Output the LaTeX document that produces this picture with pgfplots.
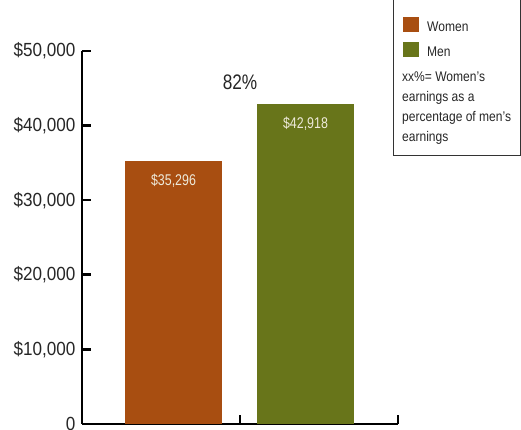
\documentclass[border=0pt]{standalone}
\usepackage{pgfplots}
\pgfplotsset{compat=1.18}
\usepackage{fontspec}
\setmainfont{Liberation Sans}[FakeStretch=0.86]
\newfontfamily\tickfont{Liberation Sans}[FakeStretch=0.9]
\newfontfamily\barfont{Liberation Sans}[FakeStretch=0.8]
\newfontfamily\pctfont{Liberation Sans}[FakeStretch=0.82]
\definecolor{women}{RGB}{168,78,17}
\definecolor{men}{RGB}{104,117,26}
\definecolor{lbl}{RGB}{238,234,218}
\begin{document}
\begin{tikzpicture}[x=1pt,y=1pt]
\useasboundingbox (0,0) rectangle (521,430);
\begin{axis}[
  at={(82pt,6pt)}, anchor=south west, scale only axis,
  width=316pt, height=373pt,
  xmin=0, xmax=316, ymin=0, ymax=50000,
  axis x line*=bottom, axis y line*=left,
  axis line style={-, line width=2.6pt, black},
  xtick={158,316}, xticklabels={},
  ytick={0,10000,20000,30000,40000,50000},
  scaled y ticks=false,
  yticklabels={0,{\$10,000},{\$20,000},{\$30,000},{\$40,000},{\$50,000}},
  tick align=inside, major tick length=9pt,
  tick style={line width=2.6pt, black},
  yticklabel style={font=\tickfont\fontsize{19}{19}\selectfont, text=black!85, xshift=-3pt},
  /pgf/number format/assume math mode=true,
  clip=false,
]
\addplot[ybar, bar shift=0pt, bar width=97, fill=women, draw=none,
  point meta=y,
  nodes near coords={\$\pgfmathprintnumber[1000 sep={,}]{\pgfplotspointmeta}},
  every node near coord/.append style={anchor=north, yshift=-10pt, text=lbl, font=\barfont\fontsize{15.5}{15.5}\selectfont}]
  coordinates {(91.5,35296)};
\addplot[ybar, bar shift=0pt, bar width=97, fill=men, draw=none,
  point meta=y,
  nodes near coords={\$\pgfmathprintnumber[1000 sep={,}]{\pgfplotspointmeta}},
  every node near coord/.append style={anchor=north, yshift=-10pt, text=lbl, font=\barfont\fontsize{15.5}{15.5}\selectfont}]
  coordinates {(223.5,42918)};
\node[font=\pctfont\fontsize{21}{21}\selectfont, text=black!85] at (axis cs:158,45800) {82\%};
\end{axis}
% legend box
\draw[line width=0.9pt, black!80] (393,275) rectangle (520.3,435);
\fill[women] (403,397.5) rectangle (419,413);
\fill[men] (403,372.7) rectangle (419,388.3);
\node[anchor=base west, inner sep=0pt, font=\fontsize{14}{14}\selectfont, text=black!85] at (427,398) {Women};
\node[anchor=base west, inner sep=0pt, font=\fontsize{14}{14}\selectfont, text=black!85] at (427,373) {Men};
\node[anchor=north west, inner sep=0pt, align=left, font=\fontsize{14}{20}\selectfont, text=black!85] at (402,358.5) {xx\%= Women's\\earnings as a\\percentage of men's\\earnings};
\end{tikzpicture}
\end{document}
